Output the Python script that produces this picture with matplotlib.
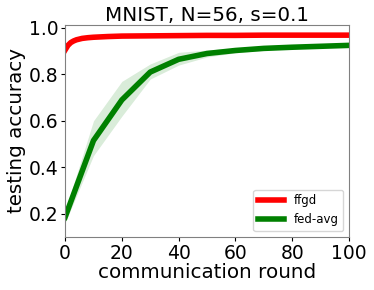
import matplotlib
matplotlib.use("Agg")
import matplotlib.pyplot as plt
import numpy as np

red_x = [0, 1, 2, 3, 4, 5, 6, 8, 10, 15, 20, 30, 40, 50, 60, 70, 80, 90, 100]
red_y = [0.905, 0.925, 0.937, 0.944, 0.949, 0.952, 0.955, 0.958, 0.960, 0.963, 0.965, 0.966, 0.967, 0.968, 0.968, 0.969, 0.969, 0.969, 0.969]

green_x = [0, 10, 20, 30, 40, 50, 60, 70, 80, 90, 100]
green_y = [0.185, 0.515, 0.690, 0.810, 0.865, 0.890, 0.903, 0.912, 0.917, 0.921, 0.925]
green_lo = [0.16, 0.45, 0.62, 0.78, 0.84, 0.875, 0.893, 0.904, 0.911, 0.916, 0.920]
green_hi = [0.21, 0.60, 0.77, 0.845, 0.895, 0.905, 0.913, 0.920, 0.923, 0.926, 0.930]

fig = plt.figure(figsize=(3.74, 2.9), dpi=100)
ax = fig.add_axes([0.174, 0.183, 0.759, 0.731])
ax.fill_between(green_x, green_lo, green_hi, color='green', alpha=0.15, linewidth=0)
ax.plot(red_x, red_y, color='red', lw=4, label='ffgd')
ax.plot(green_x, green_y, color='green', lw=4, label='fed-avg')
ax.set_xlim(0, 100)
ax.set_ylim(0.1, 1.013)
ax.set_xticks([0, 20, 40, 60, 80, 100])
ax.set_yticks([0.2, 0.4, 0.6, 0.8, 1.0])
ax.tick_params(labelsize=13.5, length=3, pad=2)
ax.set_xlabel('communication round', fontsize=14.3, labelpad=0)
ax.set_ylabel('testing accuracy', fontsize=14.3, labelpad=2)
ax.set_title('MNIST, N=56, s=0.1', fontsize=14.3, pad=3)
for s in ax.spines.values():
    s.set_color('gray')
ax.legend(loc='lower right', fontsize=8.5, handlelength=2.2)
fig.savefig('out.png', dpi=100)
